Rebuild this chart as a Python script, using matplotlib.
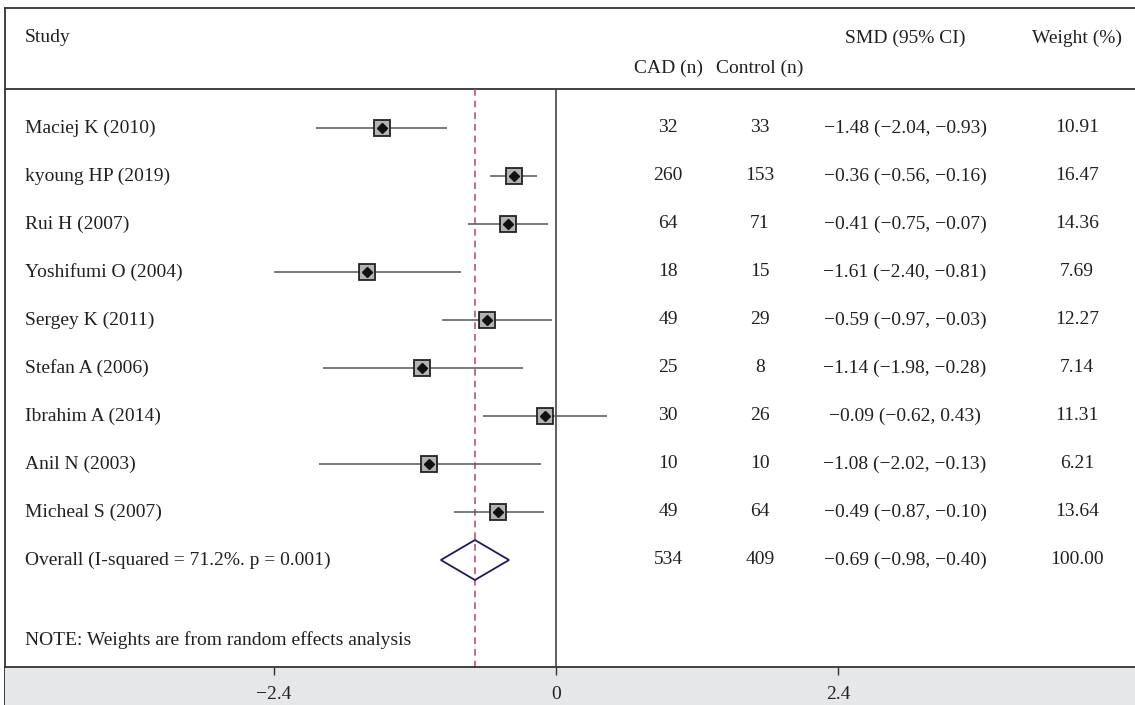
import matplotlib
matplotlib.use("Agg")
import matplotlib.pyplot as plt
import matplotlib.transforms as mtransforms
from matplotlib.patches import Rectangle, Polygon
from matplotlib.lines import Line2D

# study level data
studies = ["Maciej K (2010)", "kyoung HP (2019)", "Rui H (2007)", "Yoshifumi O (2004)",
           "Sergey K (2011)", "Stefan A (2006)", "Ibrahim A (2014)", "Anil N (2003)",
           "Micheal S (2007)"]
smd = [-1.48, -0.36, -0.41, -1.61, -0.59, -1.14, -0.09, -1.08, -0.49]
ci_low = [-2.04, -0.56, -0.75, -2.40, -0.97, -1.98, -0.62, -2.02, -0.87]
ci_high = [-0.93, -0.16, -0.07, -0.81, -0.03, -0.28, 0.43, -0.13, -0.10]
cad_n = [32, 260, 64, 18, 49, 25, 30, 10, 49]
ctrl_n = [33, 153, 71, 15, 29, 8, 26, 10, 64]
weights = [10.91, 16.47, 14.36, 7.69, 12.27, 7.14, 11.31, 6.21, 13.64]

overall_label = "Overall (I-squared = 71.2%. p = 0.001)"
overall_smd, overall_low, overall_high = -0.69, -0.98, -0.40
overall_cad, overall_ctrl, overall_weight = 534, 409, 100.00
note = "NOTE: Weights are from random effects analysis"
xticks = [-2.4, 0, 2.4]
xtick_labels = ["\u22122.4", "0", "2.4"]

W, H = 1135, 705
FONT = "Liberation Serif"
FS = 14
TXT = "#231f20"
EDGE = "#333333"


def fmt(v):
    return f"{v:.2f}".replace("-", "\u2212")


fig = plt.figure(figsize=(W / 100, H / 100), dpi=100)
fig.patch.set_facecolor("white")

# pixel layout: zero at x=556, 117.5 px per unit; rows 48 px apart from y=128
x0_px, unit_px = 556, 117.5
row0_px, row_px = 128, 48
top_px, bottom_px, left_px = 8, 667, 5

ax = fig.add_axes([left_px / W, (H - bottom_px) / H, 1 - left_px / W, (bottom_px - top_px) / H])
ax.set_zorder(2)
ax.set_xlim((left_px - x0_px) / unit_px, (W - x0_px) / unit_px)
y_bottom = (bottom_px - row0_px) / row_px
y_top = (top_px - row0_px) / row_px
ax.set_ylim(y_bottom, y_top)

header_y = (89 - row0_px) / row_px
rows = list(range(len(studies)))
overall_row = len(studies)
note_row = (640 - row0_px) / row_px

# bottom grey band
fig.patches.append(Rectangle((left_px / W, 0), 1, (H - bottom_px) / H, transform=fig.transFigure,
                             facecolor="#e6e7e9", edgecolor="none", zorder=-1))
fig.lines.append(Line2D([left_px / W, left_px / W], [0, (H - bottom_px) / H],
                        transform=fig.transFigure, color=EDGE, lw=1.3, zorder=-1))

for s in ["top", "left", "bottom"]:
    ax.spines[s].set_color(EDGE)
    ax.spines[s].set_linewidth(1.3)
ax.spines["right"].set_visible(False)

ax.axhline(header_y, color=EDGE, lw=1.3)
ax.vlines(0, header_y, y_bottom, color="#444444", lw=1.2)
ax.vlines(overall_smd, header_y, y_bottom, color="#b5566e", lw=1.2, linestyles=(0, (4, 3)))

# confidence intervals and point estimates
ax.hlines(rows, ci_low, ci_high, color="#555555", lw=1.1, zorder=2)
ax.plot(smd, rows, ls="none", marker="s", ms=11.5, mfc="#b3b3b3", mec="#222222", mew=1.3, zorder=3)
ax.plot(smd, rows, ls="none", marker="D", ms=5.5, color="#111111", zorder=4)

dh = 20 / row_px
ax.add_patch(Polygon([(overall_low, overall_row), (overall_smd, overall_row - dh),
                      (overall_high, overall_row), (overall_smd, overall_row + dh)],
                     closed=True, fill=False, edgecolor="#1f1a5e", lw=1.3, zorder=3))

ax.set_xticks(xticks)
ax.set_xticklabels(xtick_labels, fontfamily=FONT, fontsize=FS, color=TXT)
ax.tick_params(axis="x", direction="out", length=6, width=1, colors=EDGE, labelcolor=TXT, pad=8)
ax.set_yticks([])

# text columns, x in figure pixels
tr = mtransforms.blended_transform_factory(fig.transFigure, ax.transData)
kw = dict(transform=tr, fontfamily=FONT, fontsize=FS, color=TXT, va="center")
col_study, col_cad, col_ctrl, col_smd, col_w = 25, 668, 760, 905, 1077

ax.text(col_study / W, -1.875, "Study", ha="left", **kw)
ax.text(col_cad / W, -1.25, "CAD (n)", ha="center", **kw)
ax.text(col_ctrl / W, -1.25, "Control (n)", ha="center", **kw)
ax.text(col_smd / W, -1.875, "SMD (95% CI)", ha="center", **kw)
ax.text(col_w / W, -1.875, "Weight (%)", ha="center", **kw)

for i, name in enumerate(studies):
    ax.text(col_study / W, i, name, ha="left", **kw)
    ax.text(col_cad / W, i, str(cad_n[i]), ha="center", **kw)
    ax.text(col_ctrl / W, i, str(ctrl_n[i]), ha="center", **kw)
    ax.text(col_smd / W, i, f"{fmt(smd[i])} ({fmt(ci_low[i])}, {fmt(ci_high[i])})", ha="center", **kw)
    ax.text(col_w / W, i, f"{weights[i]:.2f}", ha="center", **kw)

ax.text(col_study / W, overall_row, overall_label, ha="left", **kw)
ax.text(col_cad / W, overall_row, str(overall_cad), ha="center", **kw)
ax.text(col_ctrl / W, overall_row, str(overall_ctrl), ha="center", **kw)
ax.text(col_smd / W, overall_row, f"{fmt(overall_smd)} ({fmt(overall_low)}, {fmt(overall_high)})",
        ha="center", **kw)
ax.text(col_w / W, overall_row, f"{overall_weight:.2f}", ha="center", **kw)
ax.text(col_study / W, note_row, note, ha="left", **kw)

fig.savefig("out.png", dpi=100)
